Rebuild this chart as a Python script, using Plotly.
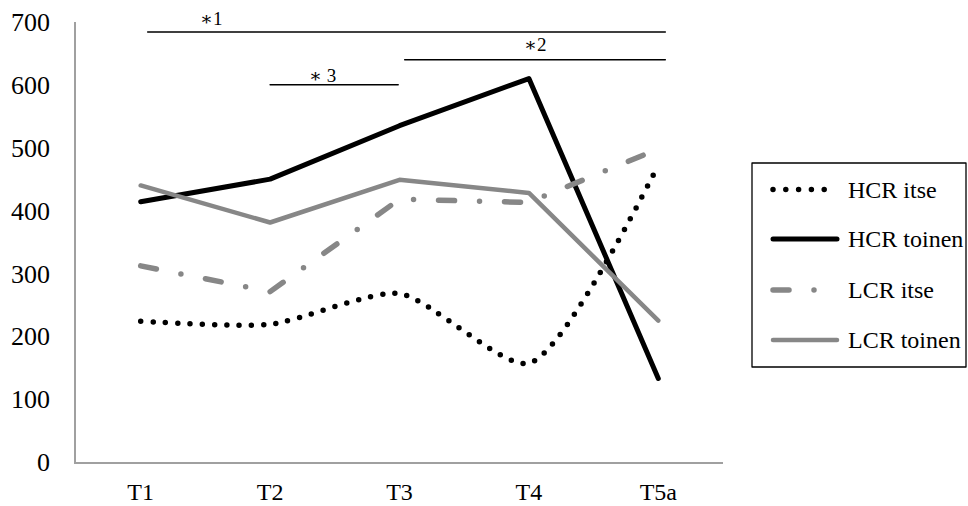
import plotly.graph_objects as go

# ---- data -------------------------------------------------------------
categories = ["T1", "T2", "T3", "T4", "T5a"]
series_names = ["HCR itse", "HCR toinen", "LCR itse", "LCR toinen"]
hcr_itse = [224, 219, 268, 157, 472]
hcr_toinen = [414, 450, 535, 610, 133]
lcr_itse = [312, 271, 418, 413, 498]
lcr_toinen = [440, 381, 449, 428, 225]
y_ticks = [0, 100, 200, 300, 400, 500, 600, 700]
sig_labels = ["\u22171", "\u22172", "\u2217 3"]

# ---- styles -------------------------------------------------------------
FONT = "'Liberation Serif', 'Times New Roman', Times, 'DejaVu Serif', serif"
BLACK = "#000000"
GREY = "#878787"
styles = [
    dict(color=BLACK, width=5.5, dash="0px,12.3px", shape="spline"),
    dict(color=BLACK, width=5, dash="solid", shape="linear"),
    dict(color=GREY, width=5.5, dash="16px,25px,0px,25px", shape="linear"),
    dict(color=GREY, width=4.5, dash="solid", shape="linear"),
]
values = [hcr_itse, hcr_toinen, lcr_itse, lcr_toinen]

W, H = 968, 506
ML, MR, MT, MB = 76, 245, 22, 44
PW, PH = W - ML - MR, H - MT - MB


def fx(px):
    return (px - ML) / PW


def fy(py):
    return (H - MB - py) / PH


fig = go.Figure()
for name, vals, st in zip(series_names, values, styles):
    line = dict(color=st["color"], width=st["width"], dash=st["dash"],
                shape=st["shape"])
    if st["shape"] == "spline":
        line["smoothing"] = 0.65
    fig.add_trace(go.Scatter(
        x=categories, y=vals, name=name, mode="lines", line=line,
        showlegend=False, hoverinfo="skip",
    ))

shapes = []
annotations = []

# significance brackets: line in data units, label in paper units
brackets = [
    (sig_labels[0], 0.054, 4.054, 684, 211, 18),
    (sig_labels[1], 2.04, 4.054, 640, 535, 44),
    (sig_labels[2], 1.0, 1.99, 600, 322, 75),
]
for label, x0, x1, yl, tx, ty in brackets:
    shapes.append(dict(type="line", xref="x", yref="y", x0=x0, x1=x1,
                       y0=yl, y1=yl, line=dict(color=BLACK, width=1.5)))
    annotations.append(dict(text=label, xref="paper", yref="paper",
                            x=fx(tx), y=fy(ty), xanchor="center", yanchor="middle",
                            showarrow=False,
                            font=dict(family=FONT, size=19, color=BLACK)))

# legend box
shapes.append(dict(type="rect", xref="paper", yref="paper",
                   x0=fx(752), x1=fx(966), y0=fy(367), y1=fy(163),
                   line=dict(color=BLACK, width=1.3), fillcolor="white"))
row_y = [189.5, 239.0, 290.0, 340.0]
for name, st, ry in zip(series_names, styles, row_y):
    shapes.append(dict(type="line", xref="paper", yref="paper",
                       x0=fx(773), x1=fx(837), y0=fy(ry), y1=fy(ry),
                       line=dict(color=st["color"], width=st["width"],
                                 dash="0px,12.8px" if st["shape"] == "spline" else st["dash"])))
    annotations.append(dict(text=name, xref="paper", yref="paper",
                            x=fx(846), y=fy(ry), xanchor="left", yanchor="middle",
                            showarrow=False,
                            font=dict(family=FONT, size=24, color=BLACK)))

fig.update_layout(
    width=W, height=H,
    margin=dict(l=ML, r=MR, t=MT, b=MB, autoexpand=False),
    paper_bgcolor="white", plot_bgcolor="white",
    font=dict(family=FONT, color=BLACK),
    shapes=shapes, annotations=annotations,
    xaxis=dict(type="category", range=[-0.5, 4.5], showgrid=False,
               zeroline=False, showline=True, linecolor="#a0a0a0", linewidth=1.5,
               ticks="", ticklabelstandoff=7, automargin=False,
               tickfont=dict(family=FONT, size=24, color=BLACK)),
    yaxis=dict(range=[0, 700], tickvals=y_ticks, showgrid=False,
               zeroline=False, showline=True, linecolor="#a0a0a0", linewidth=1.5,
               ticks="", ticklabelstandoff=19, automargin=False,
               tickfont=dict(family=FONT, size=26, color=BLACK)),
)

round_caps = (
    "var s=document.createElement('style');"
    "s.textContent='.scatterlayer .js-line, .shapelayer path"
    "{stroke-linecap:round;stroke-linejoin:round}';"
    "document.head.appendChild(s);"
)
fig.write_html("out.html", post_script=round_caps)
